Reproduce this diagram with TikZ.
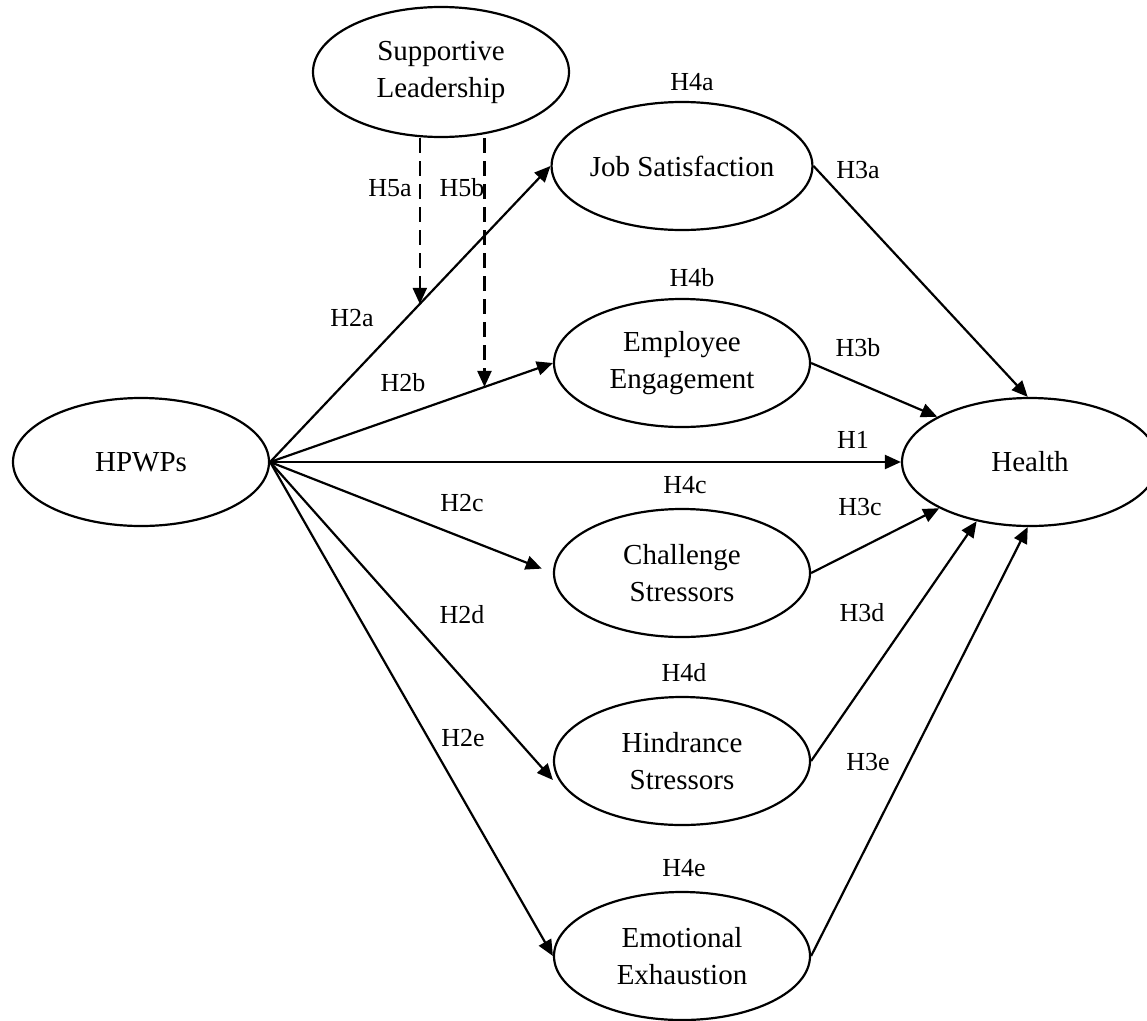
\documentclass[tikz,border=0pt]{standalone}
\usepackage{fontspec}
\setmainfont{Liberation Serif}
\usetikzlibrary{shapes.geometric,arrows.meta}
\begin{document}
\begin{tikzpicture}[x=1pt,y=-1pt,
  latent/.style={ellipse,draw,line width=2.2pt,minimum width=256pt,minimum height=128pt,inner sep=0pt,align=center,font=\fontsize{29}{37}\selectfont},
  arr/.style={line width=2.2pt,-{Triangle[length=16pt,width=14pt]}},
  modarr/.style={arr,dash pattern=on 15pt off 8pt},
  lab/.style={font=\fontsize{26}{30}\selectfont,inner sep=0pt}]
\useasboundingbox (0,0) rectangle (1147,1020);
\fill[white] (0,0) rectangle (1147,1020);
\clip (0,0) rectangle (1147,1020);

\node[latent, minimum height=130pt] (sl) at (441,72) {Supportive\\Leadership};
\node[latent] (js) at (682,166) {Job Satisfaction};
\node[latent] (ee) at (682,363) {Employee\\Engagement};
\node[latent] (hp) at (141,462) {HPWPs};
\node[latent] (he) at (1030,462) {Health};
\node[latent] (cs) at (682,573) {Challenge\\Stressors};
\node[latent] (hs) at (682,761) {Hindrance\\Stressors};
\node[latent] (ex) at (682,956) {Emotional\\Exhaustion};

% HPWPs to mediators
\draw[arr] (hp.east) -- (js.west) coordinate[pos=0.534] (m5a);
\draw[arr] (hp.east) -- (ee.west) coordinate[pos=0.758] (m5b);
\draw[arr] (hp.east) -- (he.west);
\draw[arr, shorten >=12pt] (hp.east) -- (cs.west);
\draw[arr] (hp.east) -- ([yshift=-19pt]hs.west);
\draw[arr] (hp.east) -- (ex.west);

% mediators to Health
\draw[arr] (js.east) -- (he.92);
\draw[arr] (ee.east) -- (he.154);
\draw[arr] (cs.east) -- (he.207);
\draw[arr] (hs.east) -- (he.228);
\draw[arr] (ex.east) -- (he.268);

% moderation
\draw[modarr] (m5a |- sl.south) -- (m5a);
\draw[modarr] (m5b |- sl.south) -- (m5b);

% labels
\node[lab] (l5a) at (390,188) {H5a};
\node[lab] (l5b) at (462,188) {H5b};
\node[lab] (l2a) at (352,318) {H2a};
\node[lab] (l2b) at (403,383) {H2b};
\node[lab] (l2c) at (462,503) {H2c};
\node[lab] (l2d) at (462,615) {H2d};
\node[lab] (l2e) at (463,738) {H2e};
\node[lab] (l4a) at (692,82) {H4a};
\node[lab] (l4b) at (692,278) {H4b};
\node[lab] (l4c) at (685,485) {H4c};
\node[lab] (l4d) at (684,673) {H4d};
\node[lab] (l4e) at (684,868) {H4e};
\node[lab] (l3a) at (858,170) {H3a};
\node[lab] (l3b) at (858,348) {H3b};
\node[lab] (l1) at (853,440) {H1};
\node[lab] (l3c) at (860,507) {H3c};
\node[lab] (l3d) at (862,613) {H3d};
\node[lab] (l3e) at (868,762) {H3e};
\end{tikzpicture}
\end{document}
